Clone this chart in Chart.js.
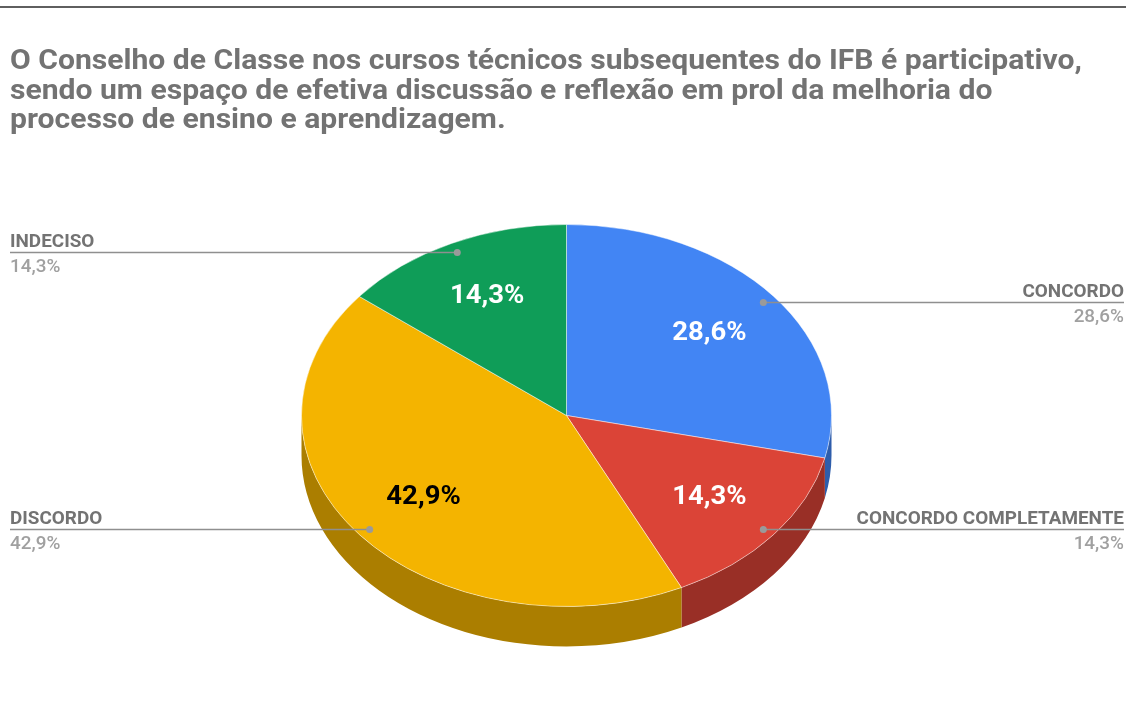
<!DOCTYPE html>
<html>
<head>
<meta charset="utf-8">
<script src="https://cdn.jsdelivr.net/npm/chart.js@4/dist/chart.umd.min.js"></script>
<style>
html,body{margin:0;padding:0;background:#fff;}
#wrap{width:1126px;height:727px;position:relative;overflow:hidden;}
canvas{display:block;}
</style>
</head>
<body>
<div id="wrap"><canvas id="c" width="1126" height="727"></canvas></div>
<script>
const titleLines = [
  "O Conselho de Classe nos cursos técnicos subsequentes do IFB é participativo,",
  "sendo um espaço de efetiva discussão e reflexão em prol da melhoria do",
  "processo de ensino e aprendizagem."
];
const categories = ["CONCORDO", "CONCORDO COMPLETAMENTE", "DISCORDO", "INDECISO"];
const values = [2, 1, 3, 1];
const sliceColors = ["#4285F4", "#DB4437", "#F4B400", "#0F9D58"];
const sideColors = ["#2E5DAB", "#992F26", "#AB7E00", "#0A6E3E"];
const innerLabelColors = ["#ffffff", "#ffffff", "#000000", "#ffffff"];

const total = values.reduce((a, b) => a + b, 0);
const pctText = values.map(v => (v / total * 100).toFixed(1).replace('.', ','));

const K = 191 / 265;   // vertical squash of the tilted pie
const DEPTH = 40;      // thickness of the pie
const FONT = "Roboto, 'Liberation Sans', sans-serif";

// text drawn with a slight horizontal stretch, like the reference rendering
function drawText(ctx, text, x, y, align, sx) {
  ctx.save();
  ctx.translate(x, y);
  ctx.scale(sx, 1);
  ctx.textAlign = align;
  ctx.fillText(text, 0, 0);
  ctx.restore();
}

function wallIntervals(s, e) {
  const out = [];
  for (let k = -2; k <= 2; k++) {
    const lo = Math.max(s, 2 * Math.PI * k), hi = Math.min(e, 2 * Math.PI * k + Math.PI);
    if (hi > lo) out.push([lo, hi]);
  }
  return out;
}

const pie3d = {
  id: 'pie3d',
  beforeDraw(chart) {
    const ctx = chart.ctx;
    ctx.save();
    ctx.fillStyle = '#fff';
    ctx.fillRect(0, 0, chart.width, chart.height);
    ctx.fillStyle = '#5f5f5f';
    ctx.fillRect(0, 6, chart.width, 2);
    ctx.fillStyle = '#737373';
    ctx.font = "bold 28px " + FONT;
    ctx.textBaseline = 'alphabetic';
    titleLines.forEach((t, i) => drawText(ctx, t, 10, 69 + i * 29.5, 'left', 1.075));
    ctx.restore();
  },
  beforeDatasetsDraw(chart) {
    const ctx = chart.ctx;
    const meta = chart.getDatasetMeta(0);
    const a0 = meta.data[0];
    const cx = a0.x, cy = a0.y, r = a0.outerRadius, ry = r * K;
    ctx.save();
    meta.data.forEach((arc, i) => {
      wallIntervals(arc.startAngle, arc.endAngle).forEach(([a, b]) => {
        ctx.beginPath();
        ctx.ellipse(cx, cy, r, ry, 0, a, b, false);
        ctx.lineTo(cx + r * Math.cos(b), cy + ry * Math.sin(b) + DEPTH);
        ctx.ellipse(cx, cy + DEPTH, r, ry, 0, b, a, true);
        ctx.closePath();
        ctx.fillStyle = sideColors[i];
        ctx.fill();
      });
    });
    ctx.restore();
    ctx.save();
    ctx.translate(cx, cy);
    ctx.scale(1, K);
    ctx.translate(-cx, -cy);
  },
  afterDatasetsDraw(chart) {
    const ctx = chart.ctx;
    ctx.restore();
    const meta = chart.getDatasetMeta(0);
    ctx.save();
    meta.data.forEach((arc, i) => {
      const cx = arc.x, cy = arc.y, r = arc.outerRadius, ry = r * K;
      const mid = (arc.startAngle + arc.endAngle) / 2;
      const c = Math.cos(mid), s = Math.sin(mid);
      // inner percentage
      ctx.font = "bold 25px " + FONT;
      ctx.fillStyle = innerLabelColors[i];
      ctx.textBaseline = 'middle';
      drawText(ctx, pctText[i] + '%', cx + 0.69 * r * c, cy + 0.69 * ry * s, 'center', 1.1);
      // leader
      const dx = cx + 0.95 * r * c, dy = Math.round(cy + 0.95 * ry * s) + 0.5;
      const right = c >= 0;
      const ex = right ? 1124 : 10;
      ctx.strokeStyle = '#8f8f8f';
      ctx.lineWidth = 1.5;
      ctx.beginPath();
      ctx.moveTo(dx, dy);
      ctx.lineTo(ex, dy);
      ctx.stroke();
      ctx.fillStyle = '#9a9a9a';
      ctx.beginPath();
      ctx.arc(dx, dy, 3.5, 0, Math.PI * 2);
      ctx.fill();
      ctx.textBaseline = 'alphabetic';
      ctx.font = "bold 18px " + FONT;
      ctx.fillStyle = '#737373';
      drawText(ctx, categories[i], ex, dy - 6, right ? 'right' : 'left', 1.05);
      ctx.font = "500 18px " + FONT;
      ctx.fillStyle = '#a0a0a0';
      drawText(ctx, pctText[i] + '%', ex, dy + 19, right ? 'right' : 'left', 1.05);
    });
    ctx.restore();
  }
};

new Chart(document.getElementById('c'), {
  type: 'pie',
  data: {
    labels: categories,
    datasets: [{
      data: values,
      backgroundColor: sliceColors,
      borderColor: 'rgba(255,255,255,0.55)',
      borderWidth: 1
    }]
  },
  options: {
    responsive: false,
    animation: false,
    events: [],
    devicePixelRatio: 1,
    layout: { padding: { left: 301, right: 294, top: 150, bottom: 46 } },
    plugins: { legend: { display: false }, tooltip: { enabled: false }, title: { display: false } }
  },
  plugins: [pie3d]
});
</script>
</body>
</html>
